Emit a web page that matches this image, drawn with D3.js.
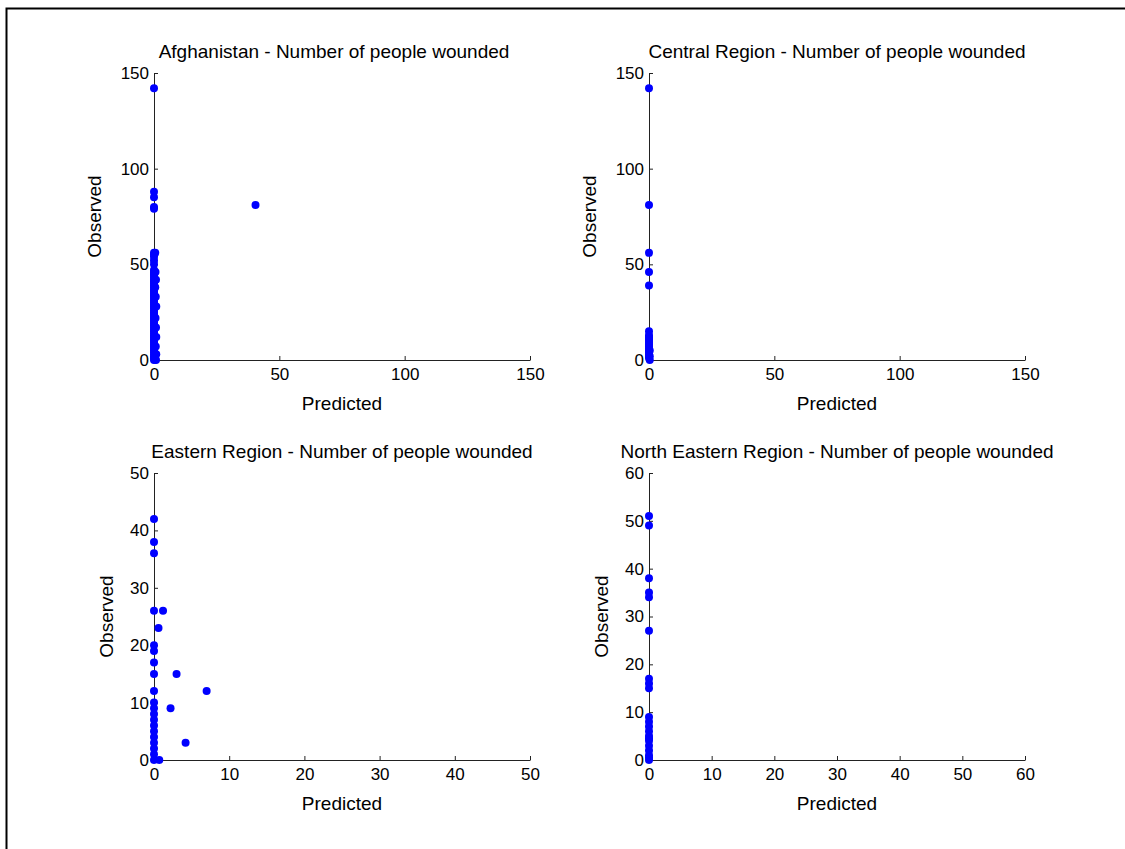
<!DOCTYPE html>
<html>
<head>
<meta charset="utf-8">
<script src="https://cdn.jsdelivr.net/npm/d3@7"></script>
<style>
  html, body { margin: 0; padding: 0; background: #fff; }
  svg { display: block; }
  text { font-family: "Liberation Sans", Arial, sans-serif; fill: #000; }
</style>
</head>
<body>
<svg id="chart" width="1125" height="849"></svg>
<script>
// ---- Data ----
const titles = [
  "Afghanistan - Number of people wounded",
  "Central Region - Number of people wounded",
  "Eastern Region - Number of people wounded",
  "North Eastern Region - Number of people wounded"
];
const axisMax = [150, 150, 50, 60];
const xTicks = [[0, 50, 100, 150], [0, 50, 100, 150], [0, 10, 20, 30, 40, 50], [0, 10, 20, 30, 40, 50, 60]];
const yTicks = [[0, 50, 100, 150], [0, 50, 100, 150], [0, 10, 20, 30, 40, 50], [0, 10, 20, 30, 40, 50, 60]];

const afgPredicted = [0, 0, 0, 0, 0, 0, 0, 0, 0, 0, 0, 0, 0, 0, 0, 0, 0, 0, 0, 0, 0, 0, 0, 0, 0, 0, 0, 0, 0, 0,
  0, 0, 0, 0, 0, 0, 0, 0, 0, 0, 0, 0, 0, 0, 0, 0, 0, 0, 0, 0, 0, 0, 0, 0, 0, 0, 0, 0,
  0.5, 0.6, 0.8, 0.5, 0.7, 0.9, 0.6, 0.8, 0.9, 0.7, 0.9, 0.8, 40.5];
const afgObserved = [142, 88, 85, 80, 79, 56, 55, 54, 52, 50, 47, 46, 45, 44, 43, 42, 41, 40, 39, 38, 37, 36, 35, 34, 33, 32, 31, 30, 29, 28,
  27, 26, 25, 24, 23, 22, 21, 20, 19, 18, 17, 16, 15, 14, 13, 12, 11, 10, 9, 8, 7, 6, 5, 4, 3, 2, 1, 0,
  56, 46, 42, 38, 33, 28, 22, 17, 12, 7, 3, 0, 81];

const cenPredicted = [0, 0, 0, 0, 0, 0, 0, 0, 0, 0, 0, 0, 0, 0, 0, 0, 0, 0, 0, 0.3, 0.3, 0.3];
const cenObserved = [142, 81, 56, 46, 39, 15, 13, 12, 11, 10, 9, 8, 7, 6, 5, 4, 3, 2, 1, 0, 2, 5];

const easPredicted = [0, 0, 0, 0, 0, 0, 0, 0, 0, 0, 0, 0, 0, 0, 0, 0, 0, 0, 0, 0, 1.2, 0.6, 3, 2.2, 7, 4.2, 0.7];
const easObserved = [42, 38, 36, 26, 20, 19, 17, 15, 12, 10, 9, 8, 7, 6, 5, 4, 3, 2, 1, 0, 26, 23, 15, 9, 12, 3, 0];

const nePredicted = [0, 0, 0, 0, 0, 0, 0, 0, 0, 0, 0, 0, 0, 0, 0, 0, 0, 0, 0, 0, 0];
const neObserved = [51, 49, 38, 35, 34, 27, 17, 16, 15, 9, 8, 7, 6, 5, 4.5, 4, 3, 2, 1, 0.5, 0];

const predicted = [afgPredicted, cenPredicted, easPredicted, nePredicted];
const observed = [afgObserved, cenObserved, easObserved, neObserved];

// ---- Layout ----
const svg = d3.select("#chart");
const W = 376, H = 287;
const origins = [[154, 73], [649, 73], [154, 473], [649, 473]];
const titleShift = [-8, 0, 0, 0];
const fs = 17;   // tick labels
const fl = 19;   // titles and axis labels

// figure frame (top and left edges)
svg.append("path")
  .attr("d", "M6.5,849 L6.5,8.5 L1125,8.5")
  .attr("fill", "none").attr("stroke", "#000").attr("stroke-width", 2);

titles.forEach((t, i) => {
  const [ox, oy] = origins[i];
  const g = svg.append("g").attr("transform", `translate(${ox},${oy})`);
  const x = d3.scaleLinear().domain([0, axisMax[i]]).range([0, W]);
  const y = d3.scaleLinear().domain([0, axisMax[i]]).range([H, 0]);

  const xa = g.append("g").attr("transform", `translate(0,${H})`)
    .call(d3.axisBottom(x).tickValues(xTicks[i]).tickSizeInner(-4).tickSizeOuter(0).tickPadding(8));
  const ya = g.append("g")
    .call(d3.axisLeft(y).tickValues(yTicks[i]).tickSizeInner(-4).tickSizeOuter(0).tickPadding(5));
  [xa, ya].forEach(a => {
    a.selectAll("text").style("font-size", fs + "px").style("font-family", '"Liberation Sans", Arial, sans-serif').attr("fill", "#000");
    a.selectAll("path,line").attr("stroke", "#222");
  });

  g.append("text").attr("x", W / 2 + titleShift[i]).attr("y", -15).attr("text-anchor", "middle")
    .style("font-size", fl + "px").text(t);
  g.append("text").attr("x", W / 2).attr("y", H + 50).attr("text-anchor", "middle")
    .style("font-size", fl + "px").text("Predicted");
  const lx = (i === 0 || i === 1) ? -53 : -41;
  g.append("text").attr("transform", `translate(${lx},${H / 2}) rotate(-90)`)
    .attr("text-anchor", "middle").style("font-size", fl + "px").text("Observed");

  const pts = predicted[i].map((p, k) => ({ p, o: observed[i][k] }));
  g.selectAll("circle.pt").data(pts).enter().append("circle")
    .attr("class", "pt")
    .attr("cx", d => x(d.p)).attr("cy", d => y(d.o))
    .attr("r", 4).attr("fill", "#0000ff");
});
</script>
</body>
</html>
